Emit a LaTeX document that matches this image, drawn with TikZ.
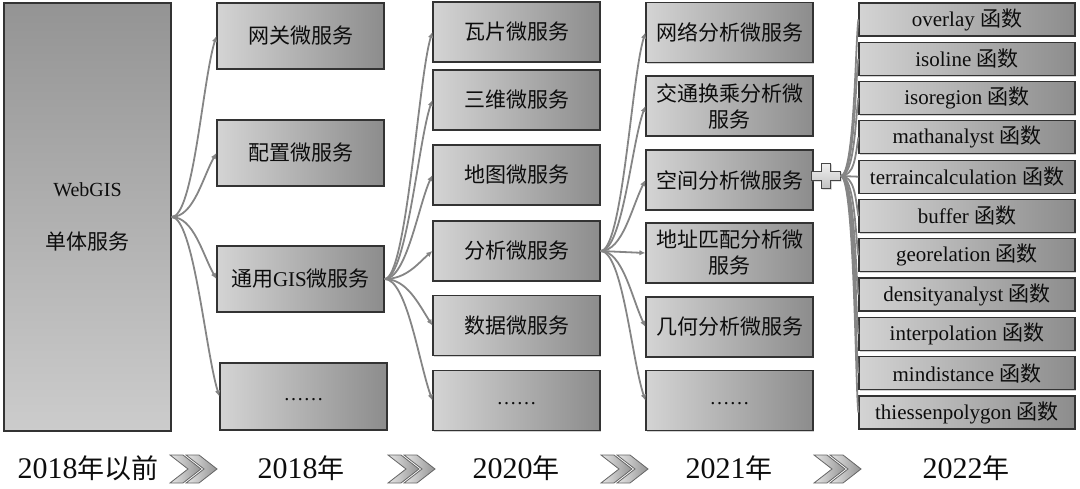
\documentclass[tikz,border=0pt]{standalone}
\usepackage{fontspec}
\setmainfont{Liberation Serif}
\newfontfamily\cjk{Noto Sans CJK SC}
\usetikzlibrary{arrows.meta,shadows,calc}
\newcommand\zhy[1]{{\cjk\fontsize{27}{30}\selectfont #1}}
\tikzset{
  boxbase/.style={draw=black!80, line width=1.2pt, left color=black!17, right color=black!45,
    text=black!95, align=center, inner sep=0pt,
    drop shadow={shadow xshift=1.3pt, shadow yshift=-1.3pt, fill=black!45, opacity=.4}},
  sbox/.style={boxbase, font=\cjk\fontsize{21}{26}\selectfont, minimum width=167pt},
  fbox/.style={boxbase, font=\fontsize{21}{24}\selectfont, minimum width=216pt, minimum height=33pt},
  bigbox/.style={draw=black!80, line width=1.2pt, top color=black!42, bottom color=black!20,
    text=black!95, align=center, inner sep=0pt, minimum width=167pt, minimum height=428pt,
    drop shadow={shadow xshift=1.3pt, shadow yshift=-1.3pt, fill=black!45, opacity=.4}},
  conn/.style={draw=black!48, line width=1.8pt, -{Latex[length=6pt,width=5.5pt]}},
  fconn/.style={draw=black!48, line width=1.8pt},
  yr/.style={font=\fontsize{30}{32}\selectfont, text=black!95, inner sep=0pt},
  chev/.style={draw=black!60, line width=0.8pt, left color=black!10, right color=black!42},
  crossfill/.style={draw=black!72, line width=1.1pt, top color=black!6, bottom color=black!24,
    drop shadow={shadow xshift=1pt, shadow yshift=-1pt, fill=black!45, opacity=.4}}
}
\begin{document}
\begin{tikzpicture}[x=1pt, y=-1pt]
\useasboundingbox (0,0) rectangle (1080,489);

% 2018 and before
\node[bigbox] (web) at (87.5,217) {};
\node[font=\fontsize{20}{24}\selectfont, text=black!95] (webt) at (87.5,190) {WebGIS};
\node[font=\cjk\fontsize{21}{24}\selectfont, text=black!95] (webz) at (87.5,242) {单体服务};

% 2018
\node[sbox, minimum height=66pt] (g1) at (300.5,36) {网关微服务};
\node[sbox, minimum height=66pt] (g2) at (300.5,153) {配置微服务};
\node[sbox, minimum height=66pt] (g3) at (300.5,279) {通用{\rmfamily GIS}微服务};
\node[sbox, minimum height=67pt] (g4) at (303.5,396.5) {{\rmfamily\fontsize{20}{24}\selectfont\vphantom{Ag}……}};

% 2020
\node[sbox, minimum height=60pt] (t1) at (516.5,32) {瓦片微服务};
\node[sbox, minimum height=60pt] (t2) at (516.5,100) {三维微服务};
\node[sbox, minimum height=60pt] (t3) at (516.5,175) {地图微服务};
\node[sbox, minimum height=60pt] (t4) at (516.5,251) {分析微服务};
\node[sbox, minimum height=60pt] (t5) at (516.5,325.5) {数据微服务};
\node[sbox, minimum height=60pt] (t6) at (516.5,400.5) {{\rmfamily\fontsize{20}{24}\selectfont\vphantom{Ag}……}};

% 2021
\node[sbox, minimum height=60pt] (u1) at (729.5,32.5) {网络分析微服务};
\node[sbox, minimum height=60pt] (u2) at (729.5,106) {交通换乘分析微\\服务};
\node[sbox, minimum height=60pt] (u3) at (729.5,180) {空间分析微服务};
\node[sbox, minimum height=60pt] (u4) at (729.5,253) {地址匹配分析微\\服务};
\node[sbox, minimum height=60pt] (u5) at (729.5,327) {几何分析微服务};
\node[sbox, minimum height=60pt] (u6) at (729.5,400.5) {{\rmfamily\fontsize{20}{24}\selectfont\vphantom{Ag}……}};

% 2022 functions
\foreach \i/\txt in {0/overlay,1/isoline,2/isoregion,3/mathanalyst,4/terraincalculation,5/buffer,6/georelation,7/densityanalyst,8/interpolation,9/mindistance,10/thiessenpolygon}
  \node[fbox] (f\i) at (967,{19.5+39.3*\i}) {\rmfamily\txt\ {\cjk 函数}};

% plus sign
\node[inner sep=0pt, minimum width=29pt, minimum height=25pt] (plus) at (826,176) {};
\path[crossfill] ($(plus.north)+(-4.75,0)$) -- ($(plus.north)+(4.75,0)$) -- ($(plus.center)+(4.75,-4.75)$)
  -- ($(plus.east)+(0,-4.75)$) -- ($(plus.east)+(0,4.75)$) -- ($(plus.center)+(4.75,4.75)$)
  -- ($(plus.south)+(4.75,0)$) -- ($(plus.south)+(-4.75,0)$) -- ($(plus.center)+(-4.75,4.75)$)
  -- ($(plus.west)+(0,4.75)$) -- ($(plus.west)+(0,-4.75)$) -- ($(plus.center)+(-4.75,-4.75)$) -- cycle;

% connectors 2018 and before -> 2018
\draw[conn] (web.east) .. controls +(22,0) and +(-14,45) .. (g1.west);
\draw[conn] (web.east) .. controls +(22,0) and +(-14,25) .. (g2.west);
\draw[conn] (web.east) .. controls +(22,0) and +(-14,-25) .. (g3.west);
\draw[conn] (web.east) .. controls +(22,0) and +(-14,-45) .. (g4.west);

% 2018 -> 2020
\draw[conn] (g3.east) .. controls +(22,0) and +(-14,45) .. (t1.west);
\draw[conn] (g3.east) .. controls +(22,0) and +(-14,40) .. (t2.west);
\draw[conn] (g3.east) .. controls +(22,0) and +(-14,30) .. (t3.west);
\draw[conn] (g3.east) .. controls +(22,0) and +(-14,12) .. (t4.west);
\draw[conn] (g3.east) .. controls +(22,0) and +(-14,-22) .. (t5.west);
\draw[conn] (g3.east) .. controls +(22,0) and +(-14,-40) .. (t6.west);

% 2020 -> 2021
\draw[conn] (t4.east) .. controls +(22,0) and +(-14,45) .. (u1.west);
\draw[conn] (t4.east) .. controls +(22,0) and +(-14,38) .. (u2.west);
\draw[conn] (t4.east) .. controls +(22,0) and +(-14,28) .. (u3.west);
\draw[conn] (t4.east) -- (u4.west);
\draw[conn] (t4.east) .. controls +(22,0) and +(-14,-30) .. (u5.west);
\draw[conn] (t4.east) .. controls +(22,0) and +(-14,-42) .. (u6.west);

% plus -> functions
\foreach \i/\k in {0/20,1/20,2/20,3/18,5/-18,6/-20,7/-20,8/-20,9/-20,10/-20}
  \draw[fconn] (plus.east) .. controls +(14,0) and +(-3,\k) .. (f\i.west);
\draw[fconn] (plus.east) -- (f4.west);

% timeline
\node[yr] (y0) at (88,468) {2018\zhy{年以前}};
\node[yr] (y1) at (301,468) {2018\zhy{年}};
\node[yr] (y2) at (516,468) {2020\zhy{年}};
\node[yr] (y3) at (729,468) {2021\zhy{年}};
\node[yr] (y4) at (966,468) {2022\zhy{年}};
\foreach \x in {170,388,601,814}
  \foreach \o in {0,16}
    \path[chev] ({\x+\o},455) -- ++(13,0) -- ++(18,14) -- ++(-18,14) -- ++(-13,0) -- ++(18,-14) -- cycle;
\end{tikzpicture}
\end{document}
